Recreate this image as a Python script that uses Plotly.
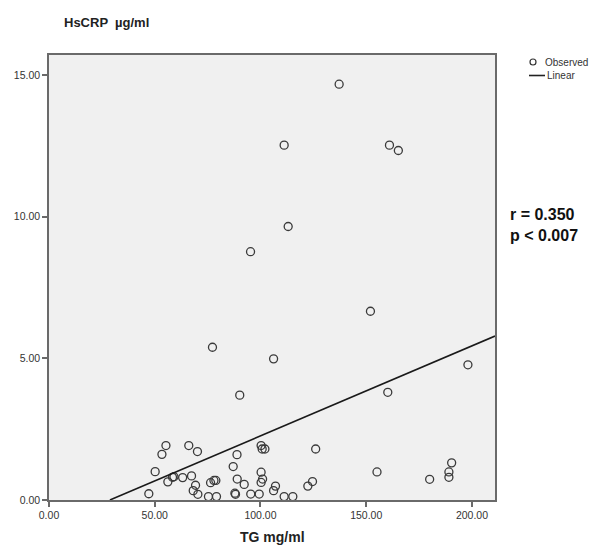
import numpy as np
import plotly.graph_objects as go

tg = [137.2, 111.2, 161.0, 165.2, 113.1, 95.3, 152.0, 77.3, 106.2, 198.1, 160.2, 90.2,
      55.3, 53.4, 66.1, 70.2, 50.2, 56.2, 58.4, 59.1, 63.2, 67.4, 69.3, 68.2, 70.4,
      75.4, 79.2, 76.4, 78.0, 78.9, 47.2, 88.9, 87.1, 89.0, 87.9, 88.2, 92.3, 95.4,
      99.4, 100.3, 100.8, 102.1, 100.3, 101.0, 100.3, 107.1, 106.2, 111.2, 115.3,
      122.4, 124.6, 126.1, 155.1, 180.0, 190.4, 189.1, 189.1]
hscrp = [14.67, 12.52, 12.52, 12.33, 9.65, 8.76, 6.66, 5.39, 4.98, 4.77, 3.80, 3.70,
         1.92, 1.61, 1.92, 1.71, 1.00, 0.64, 0.80, 0.82, 0.79, 0.85, 0.52, 0.33, 0.20,
         0.12, 0.12, 0.61, 0.69, 0.69, 0.22, 1.60, 1.18, 0.74, 0.24, 0.20, 0.55, 0.21,
         0.21, 1.92, 1.80, 1.80, 0.98, 0.74, 0.62, 0.49, 0.33, 0.12, 0.12,
         0.49, 0.65, 1.80, 0.99, 0.73, 1.31, 0.99, 0.80]

# Linear fit line as drawn in the chart
fit_intercept = -0.915
fit_slope = 0.03177

x_range = [0, 210.9]
y_range = [0, 15.7]
tick_vals = [0, 50, 100, 150, 200]
ytick_vals = [0, 5, 10, 15]

x_start = -fit_intercept / fit_slope
fit_x = np.array([x_start, x_range[1]])
fit_y = fit_intercept + fit_slope * fit_x

FONT = "Liberation Sans, Arial, sans-serif"

fig = go.Figure()
fig.add_trace(go.Scatter(
    x=tg, y=hscrp, mode="markers", name="Observed",
    marker=dict(symbol="circle-open", size=8, color="#3a3a3a", line=dict(width=1.3, color="#3a3a3a")),
))
fig.add_trace(go.Scatter(
    x=fit_x, y=fit_y, mode="lines", name="Linear",
    line=dict(color="#1a1a1a", width=1.6),
))

axis_common = dict(
    showgrid=False, zeroline=False, showline=True, mirror=True,
    linecolor="#6a6a6a", linewidth=1.5, ticks="outside", ticklen=5,
    tickcolor="#6a6a6a", tickwidth=1.5, tickformat=".2f",
    tickfont=dict(family=FONT, size=10.5, color="#333333"),
)
fig.update_xaxes(range=x_range, tickvals=tick_vals, **axis_common)
fig.update_yaxes(range=y_range, tickvals=ytick_vals, **axis_common)

# plot area in pixels: x 41..487, y 47..492 inside a 608x550 figure (page adds 8px body margin)
W, H = 608, 550
L, T, PW, PH = 41, 47, 446, 445

def px(xp):
    return (xp - 49) / PW

def py(yp):
    return (500 - yp) / PH

fig.update_layout(
    width=W, height=H,
    margin=dict(l=L, r=W - L - PW, t=T, b=H - T - PH, autoexpand=False),
    plot_bgcolor="#f0f0f0", paper_bgcolor="white",
    showlegend=False,
    shapes=[
        dict(type="circle", xref="paper", yref="paper",
             x0=px(530), x1=px(536), y0=py(65), y1=py(59),
             line=dict(color="#333333", width=1.2)),
        dict(type="line", xref="paper", yref="paper",
             x0=px(529), x1=px(545), y0=py(75.5), y1=py(75.5),
             line=dict(color="#222222", width=1.6)),
    ],
    annotations=[
        dict(text="Observed", xref="paper", yref="paper", x=px(543), y=py(62),
             xanchor="left", yanchor="middle", showarrow=False,
             font=dict(family=FONT, size=10, color="#333333")),
        dict(text="Linear", xref="paper", yref="paper", x=px(545), y=py(75.5),
             xanchor="left", yanchor="middle", showarrow=False,
             font=dict(family=FONT, size=10, color="#333333")),
        dict(text="<b>HsCRP  µg/ml</b>", xref="paper", yref="paper", x=px(62), y=py(22),
             xanchor="left", yanchor="middle", showarrow=False,
             font=dict(family=FONT, size=13, color="#222222")),
        dict(text="<b>TG mg/ml</b>", xref="paper", yref="paper", x=0.5, y=py(537),
             xanchor="center", yanchor="middle", showarrow=False,
             font=dict(family=FONT, size=14, color="#222222")),
        dict(text="<b>r = 0.350<br>p < 0.007</b>", xref="paper", yref="paper", x=px(508), y=py(225),
             xanchor="left", yanchor="middle", showarrow=False, align="left",
             font=dict(family="Liberation Sans Narrow, Liberation Sans, Arial, sans-serif", size=16, color="#111111")),
    ],
)

fig.write_html("out.html")
